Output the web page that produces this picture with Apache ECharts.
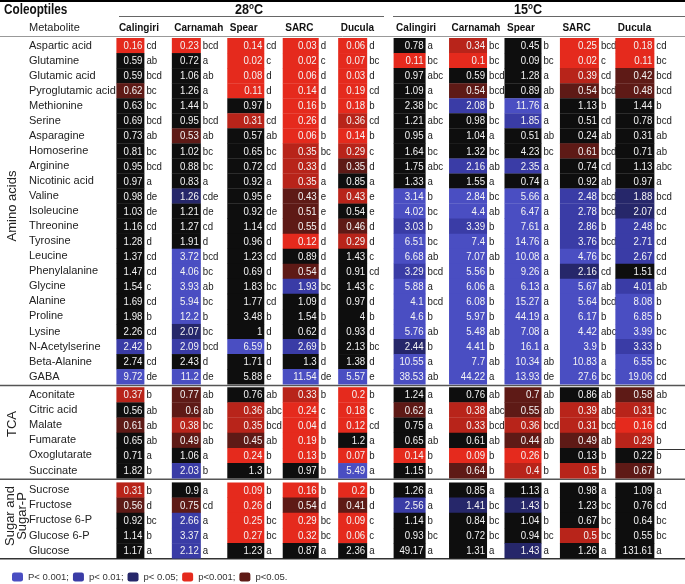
<!DOCTYPE html>
<html>
<head>
<meta charset="utf-8">
<script src="https://cdn.jsdelivr.net/npm/echarts@6.0.0/dist/echarts.min.js"></script>
<style>html,body{margin:0;padding:0;background:#fff;}#chart{width:685px;height:584px;}</style>
</head>
<body>
<div id="chart"></div>
<script>
// ---------------- DATA ----------------
const cultivars = ['Calingiri','Carnamah','Spear','SARC','Ducula','Calingiri','Carnamah','Spear','SARC','Ducula'];
const temps = ['28', '15'];
const groupNames = ['Amino acids', 'TCA', 'Sugar and\nSugar-P'];
const legendNames = ['P< 0.001;', 'p< 0.01;', 'p< 0.05;', 'p<0.001;', 'p< 0.01;', 'p<0.05.'];
// significance code: 0 = n.s., 1..3 = increase (P<0.001, p<0.01, p<0.05), 4..6 = decrease (p<0.001, p<0.01, p<0.05)

const aminoNames = ['Aspartic acid','Glutamine','Glutamic acid','Pyroglutamic acid','Methionine','Serine','Asparagine','Homoserine','Arginine','Nicotinic acid','Valine','Isoleucine','Threonine','Tyrosine','Leucine','Phenylalanine','Glycine','Alanine','Proline','Lysine','N-Acetylserine','Beta-Alanine','GABA'];
const aminoValues = [
  [0.16,0.23,0.14,0.03,0.06,0.78,0.34,0.45,0.25,0.18],
  [0.59,0.72,0.02,0.02,0.07,0.11,0.1,0.09,0.02,0.11],
  [0.59,1.06,0.08,0.06,0.03,0.97,0.59,1.28,0.39,0.42],
  [0.62,1.26,0.11,0.14,0.19,1.09,0.54,0.89,0.54,0.48],
  [0.63,1.44,0.97,0.16,0.18,2.38,2.08,11.76,1.13,1.44],
  [0.69,0.95,0.31,0.26,0.36,1.21,0.98,1.85,0.51,0.78],
  [0.73,0.53,0.57,0.06,0.14,0.95,1.04,0.51,0.24,0.31],
  [0.81,1.02,0.65,0.35,0.29,1.64,1.32,4.23,0.61,0.71],
  [0.95,0.88,0.72,0.33,0.35,1.75,2.16,2.35,0.74,1.13],
  [0.97,0.83,0.92,0.35,0.85,1.33,1.55,0.74,0.92,0.97],
  [0.98,1.26,0.95,0.43,0.43,3.14,2.84,5.66,2.48,1.88],
  [1.03,1.21,0.92,0.51,0.54,4.02,4.4,6.47,2.78,2.07],
  [1.16,1.27,1.14,0.55,0.46,3.03,3.39,7.61,2.86,2.48],
  [1.28,1.91,0.96,0.12,0.29,6.51,7.4,14.76,3.76,2.71],
  [1.37,3.72,1.23,0.89,1.43,6.68,7.07,10.08,4.76,2.67],
  [1.47,4.06,0.69,0.54,0.91,3.29,5.56,9.26,2.16,1.51],
  [1.54,3.93,1.83,1.93,1.43,5.88,6.06,6.13,5.67,4.01],
  [1.69,5.94,1.77,1.09,0.97,4.1,6.08,15.27,5.64,8.08],
  [1.98,12.2,3.48,1.54,4,4.6,5.97,44.19,6.17,6.85],
  [2.26,2.07,1,0.62,0.93,5.76,5.48,7.08,4.42,3.99],
  [2.42,2.09,6.59,2.69,2.13,2.44,4.41,16.1,3.9,3.33],
  [2.74,2.43,1.71,1.3,1.38,10.55,7.7,10.34,10.83,6.55],
  [9.72,11.2,5.88,11.54,5.57,38.53,44.22,13.93,27.6,19.06]
];
const aminoLetters = [
  ['cd','bcd','cd','d','d','a','bc','b','bcd','cd'],
  ['ab','a','c','c','bc','bc','bc','bc','c','bc'],
  ['bcd','ab','d','d','d','abc','bcd','a','cd','bcd'],
  ['bc','a','d','d','cd','a','bcd','ab','bcd','bcd'],
  ['bc','b','b','b','b','bc','b','a','b','b'],
  ['bcd','bcd','cd','d','cd','abc','bc','a','cd','bcd'],
  ['ab','ab','ab','b','b','a','a','ab','ab','ab'],
  ['bc','bc','bc','bc','c','bc','bc','bc','bcd','ab'],
  ['bcd','bc','cd','d','d','abc','ab','a','cd','abc'],
  ['a','a','a','a','a','a','a','a','ab','a'],
  ['de','cde','e','e','e','b','bc','a','bcd','bcd'],
  ['de','de','de','e','e','bc','ab','a','bcd','cd'],
  ['cd','cd','cd','d','d','b','b','a','b','bc'],
  ['d','d','d','d','d','bc','b','a','bcd','cd'],
  ['cd','bcd','cd','d','c','ab','ab','a','bc','cd'],
  ['cd','bc','d','d','cd','bcd','b','a','cd','cd'],
  ['c','ab','bc','bc','c','a','a','a','ab','ab'],
  ['cd','bc','cd','d','d','bcd','b','a','bcd','b'],
  ['b','b','b','b','b','b','b','a','b','b'],
  ['cd','bc','d','d','d','ab','ab','a','abc','bc'],
  ['b','bcd','b','b','bc','b','b','a','b','b'],
  ['cd','d','d','d','d','a','ab','ab','a','bc'],
  ['de','de','e','de','e','ab','a','de','bc','cd']
];
const aminoSig = [
  [4,4,4,4,4,0,5,0,4,4],
  [0,0,4,4,4,4,4,0,4,4],
  [0,0,4,4,4,0,0,0,5,6],
  [6,0,4,4,4,0,6,0,6,6],
  [0,0,0,4,4,0,2,1,0,0],
  [0,0,5,4,5,0,0,2,0,0],
  [0,6,0,4,4,0,0,0,0,0],
  [0,0,0,5,5,0,0,0,6,0],
  [0,0,0,5,6,0,2,2,0,0],
  [0,0,0,5,0,0,0,0,0,0],
  [0,3,0,6,5,1,1,1,2,3],
  [0,0,0,6,0,1,1,1,2,3],
  [0,0,0,6,6,2,2,1,2,2],
  [0,0,0,4,5,1,1,1,2,2],
  [0,1,0,0,0,1,1,1,1,2],
  [0,1,0,6,0,2,1,1,3,0],
  [0,1,0,2,0,1,1,1,1,2],
  [0,1,0,0,0,1,1,1,1,1],
  [0,1,0,0,0,1,1,1,1,1],
  [0,3,0,0,0,1,1,1,1,1],
  [2,2,1,2,0,3,1,1,1,2],
  [0,0,0,0,0,1,1,1,1,1],
  [1,1,0,1,1,1,1,1,1,1]
];

const tcaNames = ['Aconitate','Citric acid','Malate','Fumarate','Oxoglutarate','Succinate'];
const tcaValues = [
  [0.37,0.77,0.76,0.33,0.2,1.24,0.76,0.7,0.86,0.58],
  [0.56,0.6,0.36,0.24,0.18,0.62,0.38,0.55,0.39,0.31],
  [0.61,0.38,0.35,0.04,0.12,0.75,0.33,0.36,0.31,0.16],
  [0.65,0.49,0.45,0.19,1.2,0.65,0.61,0.44,0.49,0.29],
  [0.71,1.06,0.24,0.13,0.07,0.14,0.09,0.26,0.13,0.22],
  [1.82,2.03,1.3,0.97,5.49,1.15,0.64,0.4,0.5,0.67]
];
const tcaLetters = [
  ['b','ab','ab','b','b','a','ab','ab','ab','ab'],
  ['ab','ab','abc','c','c','a','abc','ab','abc','bc'],
  ['ab','bc','bcd','d','cd','a','bcd','bcd','bcd','cd'],
  ['ab','ab','ab','b','a','ab','ab','ab','ab','b'],
  ['a','a','b','b','b','b','b','b','b','b'],
  ['b','b','b','b','a','b','b','b','b','b']
];
const tcaSig = [
  [5,6,0,5,4,0,0,6,0,6],
  [0,6,5,4,4,6,5,6,5,5],
  [6,5,5,4,4,0,5,5,5,4],
  [0,6,6,4,0,0,0,6,6,5],
  [0,0,4,4,4,4,4,4,0,0],
  [0,2,0,0,1,0,6,5,5,6]
];

const sugarNames = ['Sucrose','Fructose','Fructose 6-P','Glucose 6-P','Glucose'];
const sugarValues = [
  [0.31,0.9,0.09,0.16,0.2,1.26,0.85,1.13,0.98,1.09],
  [0.56,0.75,0.26,0.54,0.41,2.56,1.41,1.43,1.23,0.76],
  [0.92,2.66,0.25,0.29,0.09,1.14,0.84,1.04,0.67,0.64],
  [1.14,3.37,0.27,0.32,0.06,0.93,0.72,0.94,0.5,0.55],
  [1.17,2.12,1.23,0.87,2.36,49.17,1.31,1.43,1.26,131.61]
];
const sugarLetters = [
  ['b','a','b','b','b','a','a','a','a','a'],
  ['d','cd','d','d','d','a','bc','b','bc','cd'],
  ['bc','a','bc','bc','c','b','bc','b','bc','bc'],
  ['b','a','bc','bc','c','bc','bc','bc','bc','bc'],
  ['a','a','a','a','a','a','a','a','a','a']
];
const sugarSig = [
  [5,0,4,4,4,0,0,0,0,0],
  [6,6,4,6,6,2,3,3,0,0],
  [0,2,4,4,4,0,0,0,0,0],
  [0,2,4,4,4,0,0,0,5,0],
  [0,2,0,0,0,0,0,3,0,0]
];

// ---------------- STYLE / LAYOUT ----------------
const sigColors = ['#0e0e0e','#4a4ec2','#3a3ca6','#26276a','#e52a1d','#b8241a','#5e1a16'];
const cellW = [28,29,37,36,29,32,38,37,39,39];
const gridLeft = 116.4, gridWidth = 554.4;
const gridTops = [38, 387.2, 482.4];
const rowH = [15.05, 15.17, 15.18];
const sans = '"Liberation Sans",Arial,sans-serif';
const cellFont = '11.5px ' + sans;
const squeeze = 0.84;

const groups = [
  {names: aminoNames, values: aminoValues, letters: aminoLetters, sig: aminoSig},
  {names: tcaNames, values: tcaValues, letters: tcaLetters, sig: tcaSig},
  {names: sugarNames, values: sugarValues, letters: sugarLetters, sig: sugarSig}
];

const chart = echarts.init(document.getElementById('chart'), null, {renderer: 'canvas'});

const grids = [], xAxes = [], yAxes = [], series = [];
groups.forEach((g, gi) => {
  grids.push({left: gridLeft, width: gridWidth, top: gridTops[gi], height: g.names.length * rowH[gi]});
  xAxes.push({
    gridIndex: gi, type: 'category', data: cultivars, position: 'top',
    axisLine: {show: false}, axisTick: {show: false}, splitLine: {show: false},
    axisLabel: gi === 0 ? {
      show: true, interval: 0, margin: 10, verticalAlign: 'middle',
      formatter: v => '{h|' + v + '}',
      rich: {h: {width: gridWidth / 10 - 5, align: 'left', fontFamily: sans, fontWeight: 'bold', fontSize: 10, color: '#111'}}
    } : {show: false}
  });
  yAxes.push({
    gridIndex: gi, type: 'category', data: g.names, inverse: true,
    axisLine: {show: false}, axisTick: {show: false}, splitLine: {show: false},
    axisLabel: {interval: 0, align: 'left', margin: gridLeft - 29, fontFamily: sans, fontSize: 11, color: '#222'}
  });
  const items = [];
  g.values.forEach((row, r) => row.forEach((v, c) => {
    items.push({value: [c, r, v, g.sig[r][c]], letter: g.letters[r][c], label: String(v)});
  }));
  series.push({
    type: 'custom', xAxisIndex: gi, yAxisIndex: gi, data: items, silent: true,
    encode: {x: 0, y: 1},
    renderItem: (params, api) => {
      const it = items[params.dataIndex];
      const c = api.value(0), r = api.value(1);
      const p = api.coord([c, r]);
      const sz = api.size([1, 1]);
      const x0 = p[0] - sz[0] / 2;
      const w = cellW[c];
      const h = sz[1];
      return {
        type: 'group',
        children: [
          {type: 'rect', shape: {x: x0, y: p[1] - h / 2, width: w, height: h + 0.3}, style: {fill: sigColors[api.value(3)]}},
          {type: 'text', x: x0 + w - 2, y: p[1] + 0.5, scaleX: squeeze, style: {text: it.label, x: 0, y: 0, align: 'right', verticalAlign: 'middle', fill: '#f4f4f4', font: cellFont}},
          {type: 'text', x: x0 + w + 2, y: p[1] + 0.5, scaleX: squeeze, style: {text: it.letter, x: 0, y: 0, align: 'left', verticalAlign: 'middle', fill: '#1a1a1a', font: cellFont}}
        ]
      };
    }
  });
});

// dummy series for legend entries (significance colours)
legendNames.forEach((n, i) => {
  series.push({type: 'bar', name: n, xAxisIndex: 0, yAxisIndex: 0, data: [], itemStyle: {color: sigColors[i + 1]}});
});

const lineStyle = (w, c) => ({stroke: c, lineWidth: w});
const bottomOf = gi => gridTops[gi] + groups[gi].names.length * rowH[gi];
const tempText = (t) => ({text: '{a|' + t + '}{s|o}{a|C}', align: 'center', verticalAlign: 'middle',
  rich: {a: {font: 'bold 14px ' + sans, fill: '#111', lineHeight: 16}, s: {font: 'bold 9px ' + sans, fill: '#111', verticalAlign: 'top', lineHeight: 16, padding: [0, 0, 7, 0]}}});
const graphic = [
  {type: 'line', shape: {x1: 0, y1: 1, x2: 685, y2: 1}, style: lineStyle(2, '#000')},
  {type: 'line', shape: {x1: 119, y1: 16.5, x2: 384, y2: 16.5}, style: lineStyle(1.2, '#666')},
  {type: 'line', shape: {x1: 393, y1: 16.5, x2: 685, y2: 16.5}, style: lineStyle(1.2, '#666')},
  {type: 'line', shape: {x1: 0, y1: 36.5, x2: 685, y2: 36.5}, style: lineStyle(1, '#999')},
  {type: 'line', shape: {x1: 0, y1: bottomOf(0) + 1.3, x2: 685, y2: bottomOf(0) + 1.3}, style: lineStyle(1.5, '#555')},
  {type: 'line', shape: {x1: 0, y1: bottomOf(1) + 1, x2: 685, y2: bottomOf(1) + 1}, style: lineStyle(1.5, '#555')},
  {type: 'line', shape: {x1: 0, y1: bottomOf(2) + 0.5, x2: 685, y2: bottomOf(2) + 0.5}, style: lineStyle(1.5, '#333')},
  {type: 'line', shape: {x1: 657, y1: 449.5, x2: 685, y2: 449.5}, style: lineStyle(1, '#333')},
  {type: 'text', x: 4, y: 10, scaleX: 0.84, style: {text: 'Coleoptiles', font: 'bold 14px ' + sans, fill: '#111', align: 'left', verticalAlign: 'middle'}},
  {type: 'text', x: 249, y: 10, scaleX: 0.9, style: tempText(temps[0])},
  {type: 'text', x: 528, y: 10, scaleX: 0.9, style: tempText(temps[1])},
  {type: 'text', x: 29, y: 28, style: {text: 'Metabolite', font: '11px ' + sans, fill: '#222', align: 'left', verticalAlign: 'middle'}},
  {type: 'text', x: 12, y: 206, rotation: Math.PI / 2, style: {text: groupNames[0], font: '13px ' + sans, fill: '#222', align: 'center', verticalAlign: 'middle'}},
  {type: 'text', x: 12, y: 424, rotation: Math.PI / 2, style: {text: groupNames[1], font: '13px ' + sans, fill: '#222', align: 'center', verticalAlign: 'middle'}},
  {type: 'text', x: 16, y: 516, rotation: Math.PI / 2, style: {text: groupNames[2], font: '13px ' + sans, fill: '#222', align: 'center', verticalAlign: 'middle', lineHeight: 12}}
];

chart.setOption({
  animation: false,
  backgroundColor: '#fff',
  grid: grids,
  xAxis: xAxes,
  yAxis: yAxes,
  series: series,
  graphic: graphic,
  legend: {
    data: legendNames.map((n) => n),
    left: 7, top: 567, itemWidth: 11, itemHeight: 9, itemGap: 4, icon: 'roundRect',
    selectedMode: false,
    formatter: n => '{t|' + n + '}',
    textStyle: {rich: {t: {width: 35, fontSize: 9.5, fontFamily: sans, color: '#333'}}}
  }
});
</script>
</body>
</html>
